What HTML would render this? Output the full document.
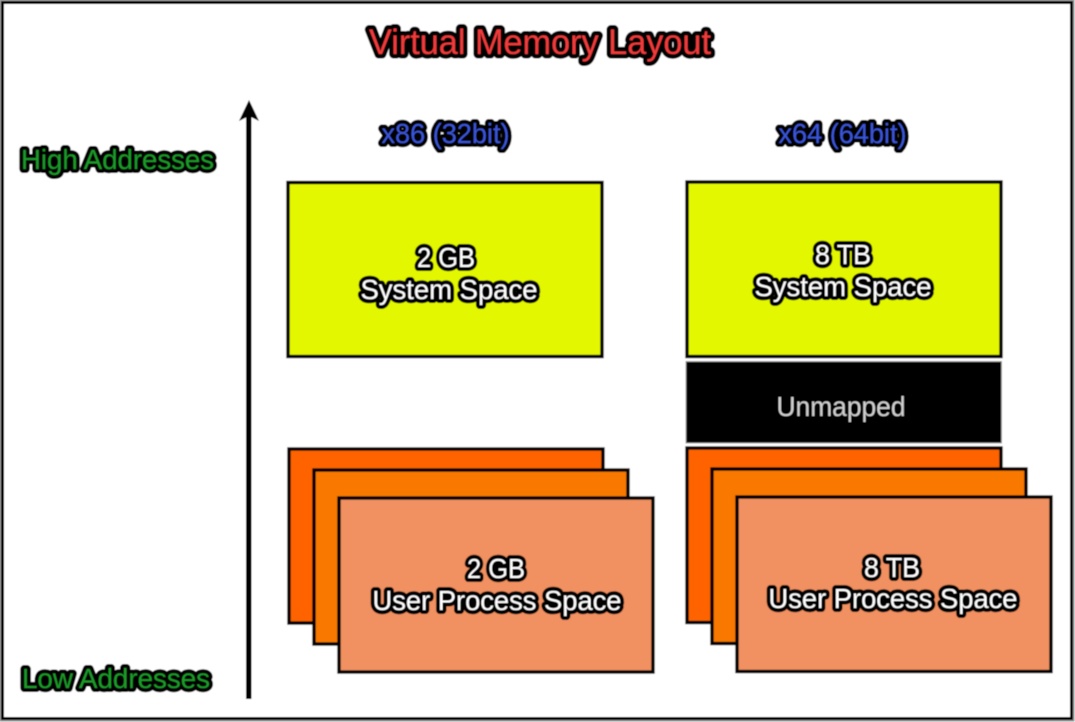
<!DOCTYPE html>
<html lang="en">
<head>
<meta charset="utf-8">
<title>Virtual Memory Layout</title>
<style>
html,body{margin:0;padding:0;background:#fff;width:1075px;height:722px;overflow:hidden}
svg{display:block}
text{font-family:"Liberation Sans",sans-serif;paint-order:stroke fill;stroke:#000;stroke-linejoin:round;text-anchor:middle}
.w{fill:#fff;font-size:28px;stroke-width:8px}
.g{fill:#1f9a2a;font-size:28px;stroke-width:8px}
.b{fill:#3a55d8;font-size:28px;stroke-width:8px}
.box{stroke:#000;stroke-width:3.400}
</style>
</head>
<body>
<svg width="1075" height="722" viewBox="0 0 1075 722" xmlns="http://www.w3.org/2000/svg">
<defs>
<filter id="soft" x="-2%" y="-2%" width="104%" height="104%"><feGaussianBlur stdDeviation="0.55"/></filter>
<filter id="shadow" x="-300%" y="-5%" width="700%" height="110%"><feGaussianBlur stdDeviation="2"/></filter>
</defs>
<g filter="url(#soft)">
<rect x="0.500" y="0.500" width="1073" height="720" fill="#fff" stroke="#999" stroke-width="2"/>
<rect x="2.500" y="2.500" width="1069" height="716" fill="#fff" stroke="#000" stroke-width="3"/>

<text x="540" y="54" textLength="342" lengthAdjust="spacingAndGlyphs" style="fill:#f03a3a;font-size:35px;stroke-width:9px">Virtual Memory Layout</text>

<g>
<path d="M248.500 699V122" stroke="#000" stroke-opacity=".45" stroke-width="5" fill="none" filter="url(#shadow)" transform="translate(0 3)"/>
<rect x="246" y="112" width="5.500" height="587" fill="#000"/>
<path d="M249 100 L259 121 L249 116 L239 121 Z" fill="#000"/>
</g>

<text class="g" x="117.500" y="169" textLength="193" lengthAdjust="spacingAndGlyphs">High Addresses</text>
<text class="g" x="116" y="688" textLength="188" lengthAdjust="spacingAndGlyphs">Low Addresses</text>

<text class="b" x="445.500" y="143" textLength="128" lengthAdjust="spacingAndGlyphs">x86 (32bit)</text>
<text class="b" x="842.500" y="143" textLength="128" lengthAdjust="spacingAndGlyphs">x64 (64bit)</text>

<rect class="box" x="288" y="182.500" width="314" height="174" fill="#e3f804"/>
<text class="w" x="446" y="267" textLength="58" lengthAdjust="spacingAndGlyphs">2 GB</text>
<text class="w" x="449" y="299" textLength="177" lengthAdjust="spacingAndGlyphs">System Space</text>

<rect class="box" x="289" y="449" width="314" height="174" fill="#fe6400"/>
<rect class="box" x="314" y="470" width="314" height="174" fill="#f87804"/>
<rect class="box" x="339" y="498" width="314" height="174" fill="#f19060"/>
<text class="w" x="496" y="578" textLength="58" lengthAdjust="spacingAndGlyphs">2 GB</text>
<text class="w" x="497" y="610" textLength="249" lengthAdjust="spacingAndGlyphs">User Process Space</text>

<rect class="box" x="687" y="182" width="314" height="174.500" fill="#e3f804"/>
<text class="w" x="843" y="264" textLength="56" lengthAdjust="spacingAndGlyphs">8 TB</text>
<text class="w" x="843" y="296" textLength="177" lengthAdjust="spacingAndGlyphs">System Space</text>

<rect x="686" y="361.500" width="315.500" height="81.500" fill="#000" stroke="#999" stroke-width="1"/>
<text x="841" y="416" textLength="129" lengthAdjust="spacingAndGlyphs" style="fill:#cfcfcf;stroke:none;font-size:28px">Unmapped</text>

<rect class="box" x="687" y="448" width="314" height="174.500" fill="#fe6400"/>
<rect class="box" x="712" y="469" width="314" height="174.500" fill="#f87804"/>
<rect class="box" x="737" y="497" width="314" height="174.500" fill="#f19060"/>
<text class="w" x="892" y="577" textLength="56" lengthAdjust="spacingAndGlyphs">8 TB</text>
<text class="w" x="893" y="608" textLength="249" lengthAdjust="spacingAndGlyphs">User Process Space</text>
</g>
</svg>
</body>
</html>
